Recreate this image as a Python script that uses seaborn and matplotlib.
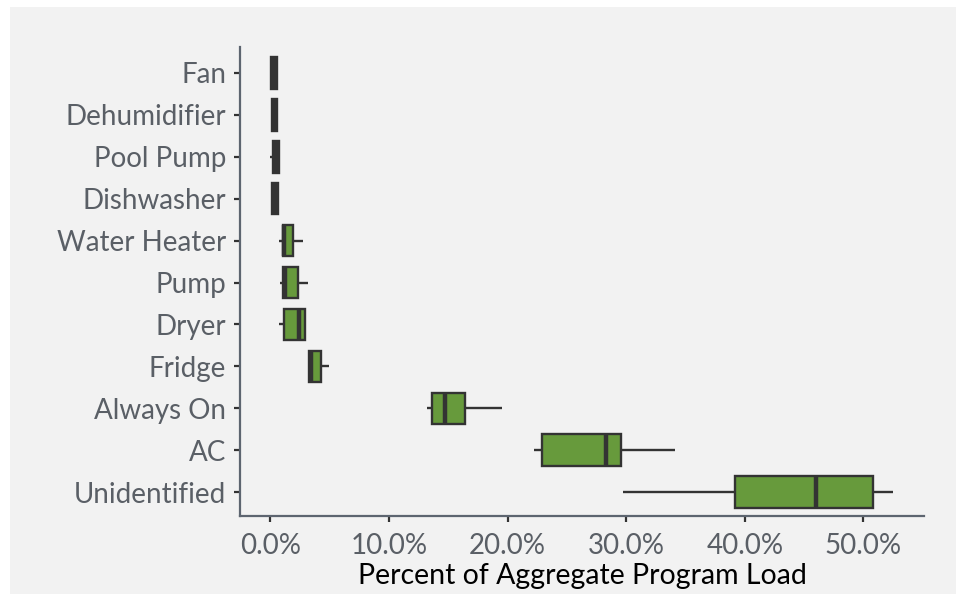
import numpy as np
import pandas as pd
import matplotlib
matplotlib.use("Agg")
import matplotlib.pyplot as plt
import seaborn as sns
from matplotlib.ticker import FuncFormatter

# End-use categories, top to bottom
categories = ["Fan", "Dehumidifier", "Pool Pump", "Dishwasher", "Water Heater",
              "Pump", "Dryer", "Fridge", "Always On", "AC", "Unidentified"]

# Share of aggregate program load (%) per site: lowest, lower quartile,
# median, upper quartile, highest
fan          = [0.10, 0.10, 0.30, 0.55, 0.55]
dehumidifier = [0.15, 0.15, 0.35, 0.60, 0.60]
pool_pump    = [0.00, 0.20, 0.45, 0.70, 0.70]
dishwasher   = [0.15, 0.15, 0.40, 0.68, 0.68]
water_heater = [0.76, 1.04, 1.12, 1.91, 2.80]
pump         = [0.84, 1.04, 1.25, 2.33, 3.20]
dryer        = [0.70, 1.18, 2.44, 2.97, 2.97]
fridge       = [3.14, 3.28, 3.45, 4.30, 4.97]
always_on    = [13.2, 13.6, 14.7, 16.4, 19.5]
ac           = [22.2, 22.9, 28.3, 29.6, 34.1]
unidentified = [29.7, 39.2, 46.0, 50.8, 52.5]

xticks = [0, 10, 20, 30, 40, 50]

series = [fan, dehumidifier, pool_pump, dishwasher, water_heater, pump,
          dryer, fridge, always_on, ac, unidentified]
df = pd.DataFrame({
    "category": np.repeat(categories, [len(s) for s in series]),
    "load": np.concatenate(series),
})

sns.set_theme(style="white")
plt.rcParams["font.family"] = ["Lato", "DejaVu Sans"]

BG = "#f2f2f2"
DARK = "#333333"
fig = plt.figure(figsize=(9.56, 5.94), dpi=100, facecolor="white")
fig.patches.append(plt.Rectangle((10 / 956, 0), 1 - 10 / 956, 1 - 7 / 594,
                                 transform=fig.transFigure, facecolor=BG,
                                 edgecolor="none", zorder=-10))
ax = fig.add_axes([240 / 956, 78 / 594, 684 / 956, 469 / 594])
ax.set_facecolor(BG)

sns.boxplot(data=df, x="load", y="category", order=categories, orient="h",
            color="#679a3c", saturation=1, width=0.75, whis=(0, 100),
            showcaps=False, fliersize=0, linecolor=DARK, linewidth=1.7,
            medianprops=dict(color=DARK, linewidth=3.2),
            ax=ax)

ax.set_xlim(-2.55, 55.1)
ax.set_ylim(10.57, -0.62)
ax.set_xticks(xticks)
ax.xaxis.set_major_formatter(FuncFormatter(lambda v, p: f"{v:.1f}%"))

for side in ("top", "right"):
    ax.spines[side].set_visible(False)
for side in ("left", "bottom"):
    ax.spines[side].set_color("#5d6570")
    ax.spines[side].set_linewidth(1.6)

ax.tick_params(axis="both", which="major", length=4, width=1.6, color=DARK,
               labelsize=20, labelcolor="#5a5f66", pad=6, direction="out")
ax.tick_params(axis="y", left=True)
ax.tick_params(axis="x", bottom=True, pad=8)
ax.set_ylabel("")
ax.set_xlabel("Percent of Aggregate Program Load", fontsize=20.5,
              color="black", labelpad=3)

fig.savefig("out.png", dpi=100, facecolor="white")
